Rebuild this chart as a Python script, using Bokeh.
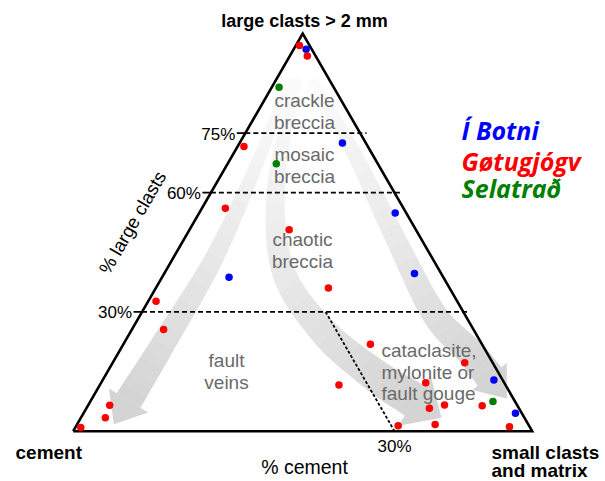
import numpy as np
from bokeh.plotting import figure
from bokeh.models import Range1d
from bokeh.embed import file_html
from bokeh.resources import INLINE
from bokeh.core.properties import value

# ---------------- data (percent large clasts, percent small clasts & matrix; cement = rest)
botni_large = [96.1, 72.5, 54.9, 38.7, 39.7, 12.9, 4.5]
botni_small = [2.7, 22.4, 42.7, 14.6, 54.5, 85.2, 94.1]
gotu_large = [97.0, 94.4, 71.6, 56.1, 50.7, 36.0, 32.7, 25.6, 21.9, 17.2, 12.2,
              11.6, 6.4, 5.8, 6.6, 6.5, 3.4, 0.9, 1.4, 1.7, 1.1]
gotu_small = [0.8, 3.8, 1.4, 5.1, 21.7, 37.6, 1.7, 6.9, 53.8, 76.7, 70.7,
              52.1, 85.9, 74.7, 77.6, 4.7, 5.3, 1.2, 70.1, 78.0, 94.5]
sela_large = [86.5, 67.3, 7.5]
sela_small = [1.6, 10.6, 87.7]
large_levels = [75, 60, 30]
large_level_labels = ["75%", "60%", "30%"]
cement_level = 30
cement_level_label = "30%"

SERIES = [("Í Botni", "#0000ff", botni_large, botni_small),
          ("Gøtugjógv", "#ff0000", gotu_large, gotu_small),
          ("Selatrað", "#007f00", sela_large, sela_small)]

H = np.sqrt(3) / 2


def tern(large, small):
    L = np.asarray(large, float) / 100.0
    S = np.asarray(small, float) / 100.0
    return S + L / 2, L * H


# reference pixel -> data helper (triangle side = 459 px)
X0, Y0, SIDE = 72.7, 430.7, 459.0
W, HT = 605, 481


def px(X, Y):
    return (X - X0) / SIDE, (Y0 - Y) / SIDE


p = figure(width=W, height=HT, output_backend="svg", toolbar_location=None,
           x_range=Range1d((0 - X0) / SIDE, (W - X0) / SIDE),
           y_range=Range1d((Y0 - HT) / SIDE, (Y0 - 0) / SIDE),
           min_border=0, x_axis_location=None, y_axis_location=None)
p.grid.visible = False
p.outline_line_color = None
p.background_fill_color = "white"


# ---------------- grey arrows
def catmull(pts, n=20):
    pts = np.asarray(pts, float)
    P = np.vstack([2 * pts[0] - pts[1], pts, 2 * pts[-1] - pts[-2]])
    out = []
    for i in range(1, len(P) - 2):
        p0, p1, p2, p3 = P[i - 1], P[i], P[i + 1], P[i + 2]
        for t in np.linspace(0, 1, n, endpoint=False):
            t2, t3 = t * t, t * t * t
            out.append(0.5 * ((2 * p1) + (-p0 + p2) * t + (2 * p0 - 5 * p1 + 4 * p2 - p3) * t2
                              + (-p0 + 3 * p1 - 3 * p2 + p3) * t3))
    out.append(pts[-1])
    return np.array(out)


def arrow(pts, w0, w1, hw, hl, a0=0.04, a1=0.55, K=24):
    c = catmull(pts)
    d = np.gradient(c, axis=0)
    d /= np.linalg.norm(d, axis=1)[:, None]
    nrm = np.column_stack([-d[:, 1], d[:, 0]])
    seg = np.linalg.norm(np.diff(c, axis=0), axis=1)
    s = np.concatenate([[0], np.cumsum(seg)])
    t = s / s[-1]
    w = (w0 + (w1 - w0) * t)[:, None] / 2
    left = c + nrm * w
    right = c - nrm * w
    xs, ys, al = [], [], []
    idx = np.linspace(0, len(c) - 1, K + 1).astype(int)
    for k in range(K):
        i0, i1 = idx[k], idx[k + 1]
        poly = np.vstack([left[i0:i1 + 1], right[i0:i1 + 1][::-1]])
        dx, dy = px(poly[:, 0], poly[:, 1])
        xs.append(list(dx)); ys.append(list(dy))
        tm = (t[i0] + t[i1]) / 2
        al.append(a0 + (a1 - a0) * tm ** 1.1)
    e, de, ne = c[-1], d[-1], nrm[-1]
    head = np.array([e + ne * hw, e + de * hl, e - ne * hw])
    dx, dy = px(head[:, 0], head[:, 1])
    xs.append(list(dx)); ys.append(list(dy)); al.append(a1)
    p.patches(xs, ys, fill_color="#b0b0b0", fill_alpha=al, line_color=None)


arrow([(288, 78), (262, 150), (215, 255), (163, 343), (128, 400)], 8, 28, 23, 28)
arrow([(297, 78), (276, 180), (282, 268), (322, 330), (375, 375), (414, 400)], 10, 36, 30, 32)
arrow([(311, 78), (352, 150), (396, 240), (434, 314), (470, 352), (489, 376)], 10, 30, 22, 28)

# ---------------- guide lines
for lv in large_levels:
    xl, yl = tern(lv, 0)
    xr, yr = tern(lv, 100 - lv)
    ext = 6.5 / SIDE
    p.line([xl - 8.5 / SIDE, xl], [yl, yl], line_color="black", line_width=1.8)
    p.line([xl, xr + ext], [yl, yl], line_color="black", line_width=1.8, line_dash="5 3")

cx0, cy0 = tern(30, 100 - 30 - cement_level)
cx1, cy1 = tern(0, 100 - cement_level)
p.line([cx0, cx1], [cy0, cy1], line_color="black", line_width=1.8, line_dash="3 2")

# triangle
tx, ty = tern([0, 0, 100, 0], [0, 100, 0, 0])
p.line(list(tx), list(ty), line_color="black", line_width=2.6, line_join="miter")

# ---------------- texts
FONT = value("Liberation Sans")


def txt(X, Y, s, size, color="black", style="normal", align="center", angle=0, font=FONT):
    x, y = px(X, Y)
    p.text(x=[x], y=[y], text=[s], text_font=font, text_font_size=size,
           text_font_style=style, text_color=color, text_align=align,
           text_baseline="middle", angle=angle)


# vertex labels
txt(304, 20, "large clasts > 2 mm", "18px", style="bold")
txt(15, 452, "cement", "19px", style="bold", align="left")
txt(491, 452, "small clasts", "19px", style="bold", align="left")
txt(491, 470, "and matrix", "19px", style="bold", align="left")

# axis titles
txt(304, 466, "% cement", "19.5px")
txt(132, 222, "% large clasts", "18.5px", angle=np.pi / 3)

# tick labels
for lv, lab in zip(large_levels, large_level_labels):
    xl, yl = tern(lv, 0)
    X = X0 + xl * SIDE - 10
    Y = Y0 - yl * SIDE + 1
    txt(X, Y, lab, "17px", align="right")
txt(394, 446, cement_level_label, "17px")

# region labels
G = "#6a6a6a"
for X, Y, s in [(304, 100, "crackle"), (304, 122, "breccia"),
                (304, 154, "mosaic"), (304, 176, "breccia"),
                (302, 239, "chaotic"), (302, 261, "breccia"),
                (226, 360, "fault"), (226, 382, "veins")]:
    txt(X, Y, s, "19px", color=G)
for Y, s in [(350, "cataclasite,"), (372, "mylonite or"), (393, "fault gouge")]:
    txt(381, Y, s, "19px", color=G, align="left")

# legend texts
for (name, col, _, _), Y in zip(SERIES, [129, 160, 187]):
    txt(461, Y, name, "25px", color=col, style="bold italic", align="left",
        font=value("Open Sans"))

# ---------------- data points
for name, col, L, S in SERIES:
    x, y = tern(L, S)
    p.scatter(x, y, size=7.5, fill_color=col, line_color=None)

open("out.html", "w").write(file_html(p, INLINE))
